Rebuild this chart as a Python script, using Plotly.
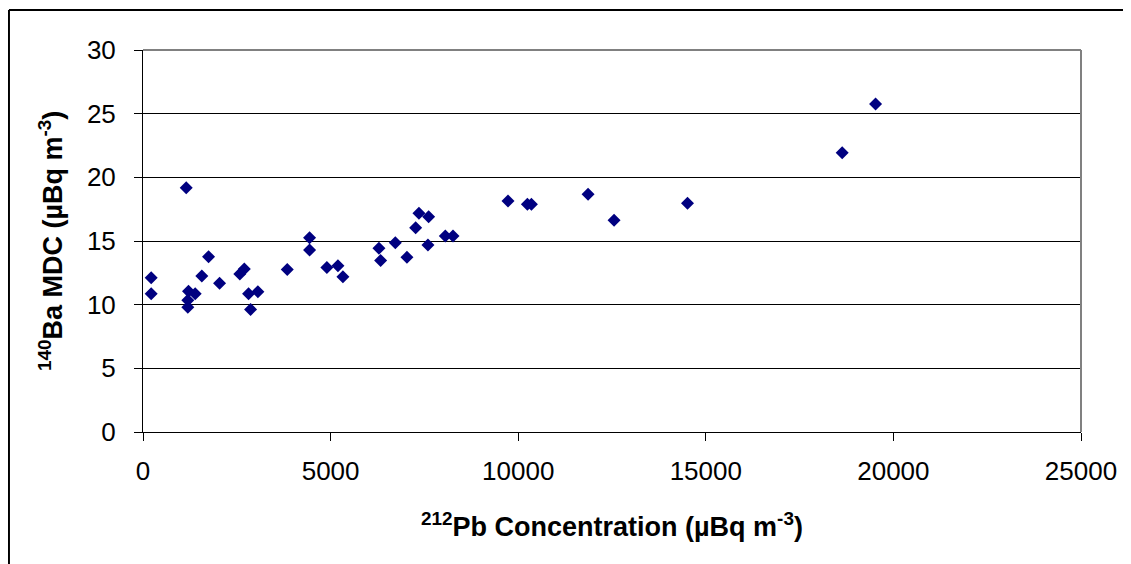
import plotly.graph_objects as go

# 212Pb concentration vs 140Ba MDC
pb212 = [218, 218, 1152, 1195, 1195, 1213, 1391, 1568, 1747, 2040, 2580, 2700,
         2813, 2867, 3062, 3845, 4440, 4440, 4900, 5195, 5328, 6288, 6333, 6725,
         7035, 7267, 7355, 7595, 7613, 8058, 8262, 9728, 10245, 10352, 11862,
         12555, 14512, 18635, 19525]
ba140_mdc = [10.86, 12.12, 19.19, 9.79, 10.34, 11.05, 10.86, 12.25, 13.77, 11.68,
             12.4, 12.8, 10.86, 9.63, 11.02, 12.77, 15.26, 14.29, 12.92, 13.06,
             12.2, 14.43, 13.46, 14.87, 13.72, 16.05, 17.17, 14.69, 16.91, 15.39,
             15.39, 18.14, 17.88, 17.88, 18.67, 16.62, 17.96, 21.94, 25.76]

font = "Liberation Sans, Arial, sans-serif"

fig = go.Figure(go.Scatter(
    x=pb212, y=ba140_mdc, mode="markers",
    marker=dict(symbol="diamond", size=10, color="#000080"),
))

# page body adds 8px, margins are compensated for it
fig.update_layout(
    width=1131, height=564,
    margin=dict(l=135, r=58, t=42, b=140),
    paper_bgcolor="white", plot_bgcolor="white",
    showlegend=False,
    font=dict(family=font, color="black"),
)
fig.update_xaxes(
    range=[0, 25000], dtick=5000, tickformat="d", showgrid=False, zeroline=False,
    showline=True, linecolor="black", linewidth=1, automargin=False,
    ticks="outside", ticklen=8, tickcolor="black",
    tickfont=dict(size=26), ticklabelstandoff=8,
)
fig.update_yaxes(
    range=[0, 30], dtick=5, showgrid=True, gridcolor="black", gridwidth=1,
    zeroline=False, showline=True, linecolor="black", linewidth=1, automargin=False,
    ticks="outside", ticklen=8, tickcolor="black",
    tickfont=dict(size=26), ticklabelstandoff=13,
)

# axis titles
fig.add_annotation(text="<b><sup>212</sup>Pb Concentration (µBq m<sup>-3</sup>)</b>",
                   xref="paper", yref="paper", x=0.5, y=-0.2435,
                   xanchor="center", yanchor="middle", showarrow=False,
                   font=dict(size=27))
fig.add_annotation(text="<b><sup>140</sup>Ba MDC (µBq m<sup>-3</sup>)</b>",
                   xref="paper", yref="paper", x=-0.098, y=0.5,
                   xanchor="center", yanchor="middle", showarrow=False,
                   textangle=-90, font=dict(size=27))

# grey plot-area border (top and right)
fig.add_shape(type="line", xref="paper", yref="paper", x0=0, x1=1, y0=1, y1=1,
              line=dict(color="#808080", width=2))
fig.add_shape(type="line", xref="paper", yref="paper", x0=1, x1=1, y0=0, y1=1,
              line=dict(color="#808080", width=2))
# outer chart frame: only left and top edges are inside the picture
fig.add_shape(type="line", xref="paper", yref="paper",
              x0=-0.1429, x1=-0.1429, y0=-0.4, y1=1.1047,
              line=dict(color="black", width=2), layer="below")
fig.add_shape(type="line", xref="paper", yref="paper",
              x0=-0.1429, x1=1.2, y0=1.1047, y1=1.1047,
              line=dict(color="black", width=2), layer="below")

fig.write_html("out.html")
